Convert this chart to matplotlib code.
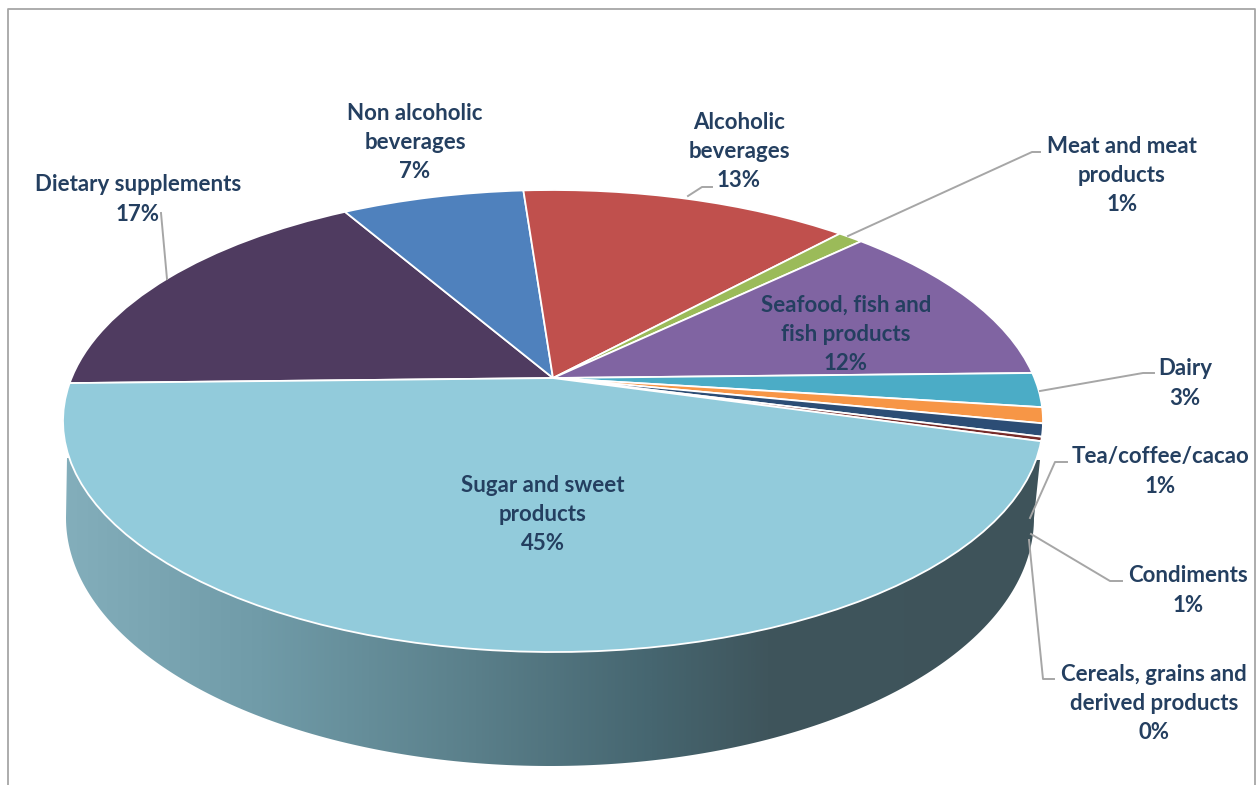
import numpy as np
import matplotlib
matplotlib.use("Agg")
import matplotlib.pyplot as plt
from matplotlib.transforms import Transform, Affine2D
from matplotlib.patches import Polygon
from matplotlib.colors import LinearSegmentedColormap

# ---- data (share of each category; labels as printed)
categories = ["Dietary supplements", "Non alcoholic\nbeverages", "Alcoholic\nbeverages",
              "Meat and meat\nproducts", "Seafood, fish and\nfish products", "Dairy",
              "Tea/coffee/cacao", "Condiments", "Cereals, grains and\nderived products",
              "Sugar and sweet\nproducts"]
values = [17.0, 7.2, 13.0, 1.0, 11.8, 2.4, 1.1, 0.9, 0.3, 45.3]
printed = ["17%", "7%", "13%", "1%", "12%", "3%", "1%", "1%", "0%", "45%"]
colors = ["#4F3B60", "#4F81BD", "#C0504D", "#9BBB59", "#8064A2",
          "#4BACC6", "#F79646", "#2C4D75", "#772C2A", "#92CBDB"]

# ---- label layout (centre of text block, pixels)
label_xy = [(138, 199.5), (415, 142.5), (739, 151.5), (1122, 175.5), (846, 334.5),
            (1185, 383.5), (1160, 471.5), (1188, 590.5), (1154, 703.5), (543, 514.5)]
# leader lines (pixels); None = no leader
leaders = [[(167, 279), (161, 213)], None, [(688, 196), (702, 187), (712, 187)],
           [(848, 236), (1032, 152), (1040, 152)], None,
           [(1040, 391), (1143, 373), (1154, 373)],
           [(1030, 518), (1055, 462), (1067, 462)],
           [(1031, 534), (1110, 581), (1122, 581)],
           [(1029, 540), (1043, 679), (1054, 679)], None]

TILT = 0.186
TOP = dict(cx=553, cy=421, rx=490, ry=231)
LOW = dict(cx=550, cy=518, rx=484, ry=248)
TEXT = "#243F60"
GREY = "#A6A6A6"


class Perspective(Transform):
    """Projective map of the unit circle onto itself, moving the centre upward."""
    input_dims = output_dims = 2

    def transform_non_affine(self, values):
        v = np.asarray(values, float)
        d = 1 + TILT * v[:, 1]
        return np.column_stack((v[:, 0] * np.sqrt(1 - TILT ** 2) / d, (v[:, 1] + TILT) / d))


fig = plt.figure(figsize=(12.56, 7.85), dpi=100)
ax = fig.add_axes([0, 0, 1, 1])

# pie top, drawn from the values
wedges, _ = ax.pie(values, colors=colors, startangle=181.3, counterclock=False,
                   wedgeprops=dict(edgecolor="white", linewidth=1.3, zorder=3))
to_px = Affine2D().scale(TOP["rx"], -TOP["ry"]).translate(TOP["cx"], TOP["cy"])
for w in wedges:
    w.set_transform(Perspective() + to_px + ax.transData)

# side wall with horizontal gradient
t = np.linspace(np.pi, 0, 200)
xs = LOW["cx"] + LOW["rx"] * np.cos(t)
ys = LOW["cy"] + LOW["ry"] * np.sin(t)
verts = np.column_stack((xs, ys))
verts = np.vstack(([(67, 458)], verts, [(1040, 460)]))
clip = Polygon(verts, closed=True, transform=ax.transData, facecolor="none", edgecolor="none")
ax.add_patch(clip)
cmap = LinearSegmentedColormap.from_list("wall", [
    (0.0, "#83AEBB"), (0.2, "#709BA8"), (0.42, "#5A7F8A"), (0.6, "#466670"),
    (0.72, "#3F555C"), (1.0, "#3E535A")])
im = ax.imshow(np.linspace(0, 1, 512)[None, :], cmap=cmap, extent=(65, 1042, 770, 450),
               aspect="auto", zorder=1, interpolation="bilinear")
im.set_clip_path(clip)

# chart frame
ax.plot([8, 8, 1255, 1255], [785, 9, 9, 785], color=GREY, lw=1.3, zorder=2)

for pts in leaders:
    if pts:
        px, py = zip(*pts)
        ax.plot(px, py, color=GREY, lw=1.4, zorder=4, solid_joinstyle="round")

for name, pct, (x, y) in zip(categories, printed, label_xy):
    ax.text(x, y, f"{name}\n{pct}", ha="center", va="center", ma="center",
            family="Lato", weight="bold", fontsize=16, color=TEXT,
            linespacing=1.48, zorder=5)

ax.set_aspect("auto")
ax.set_xlim(0, 1256)
ax.set_ylim(785, 0)
ax.axis("off")
fig.savefig("out.png", dpi=100)
